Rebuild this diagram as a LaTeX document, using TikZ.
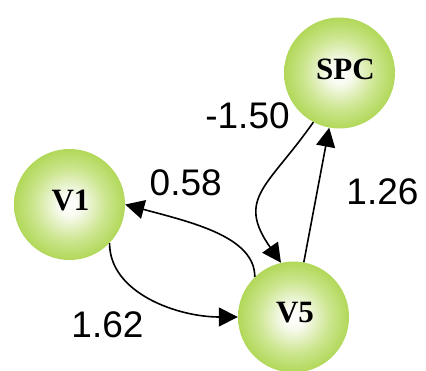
\documentclass[tikz,border=0pt]{standalone}
\usepackage{fontspec}
\setmainfont{Liberation Serif}
\newfontfamily\numfont{Liberation Sans}
\usetikzlibrary{arrows.meta}
\definecolor{edgegreen}{RGB}{138,192,22}
\definecolor{ballgreen}{RGB}{148,200,35}
\definecolor{ringgreen}{RGB}{168,211,70}
\definecolor{midgreen}{RGB}{205,230,145}
\definecolor{palegreen}{RGB}{248,251,240}
\pgfdeclareradialshading{ballshade}{\pgfpoint{0bp}{0bp}}{%
  color(0bp)=(white); color(5bp)=(palegreen); color(16bp)=(midgreen);
  color(28bp)=(ringgreen); color(40bp)=(ballgreen); color(50bp)=(edgegreen)}
\tikzset{
  ball/.style={circle, minimum size=111pt, inner sep=0pt, shading=ballshade},
  nodetext/.style={font=\fontsize{31}{34}\selectfont\bfseries, inner sep=0pt},
  weight/.style={font=\numfont\fontsize{37}{40}\selectfont, inner sep=0pt},
  link/.style={line width=1.6pt, -{Triangle[length=19pt,width=19pt]}}
}
\begin{document}
\begin{tikzpicture}[x=1pt,y=1pt]
\useasboundingbox (0,0) rectangle (426,370);
\node[ball, label={[nodetext, xshift=1pt, yshift=3.5pt]center:V1}] (v1) at (69.5,165.5) {};
\node[ball, label={[nodetext, xshift=6pt, yshift=4pt]center:SPC}] (spc) at (339.5,297) {};
\node[ball, label={[nodetext, xshift=1.5pt, yshift=4.5pt]center:V5}] (v5) at (293.5,53) {};
\draw[link] (v1.-44) .. controls +(-90:50) and +(180:60) .. (v5.180);
\draw[link] (v5.134.6) .. controls +(90:40) and +(-15:70) .. (v1.0);
\draw[link] (spc.-118.8) to[out=-125, in=125, looseness=1.4] (v5.103.4);
\draw[link] (v5) -- (spc);
\node[weight] (w1) at (247.5,254.3) {-1.50};
\node[weight] (w2) at (185.7,187.5) {0.58};
\node[weight] (w3) at (382.5,178.3) {1.26};
\node[weight] (w4) at (107.5,45.5) {1.62};
\end{tikzpicture}
\end{document}
